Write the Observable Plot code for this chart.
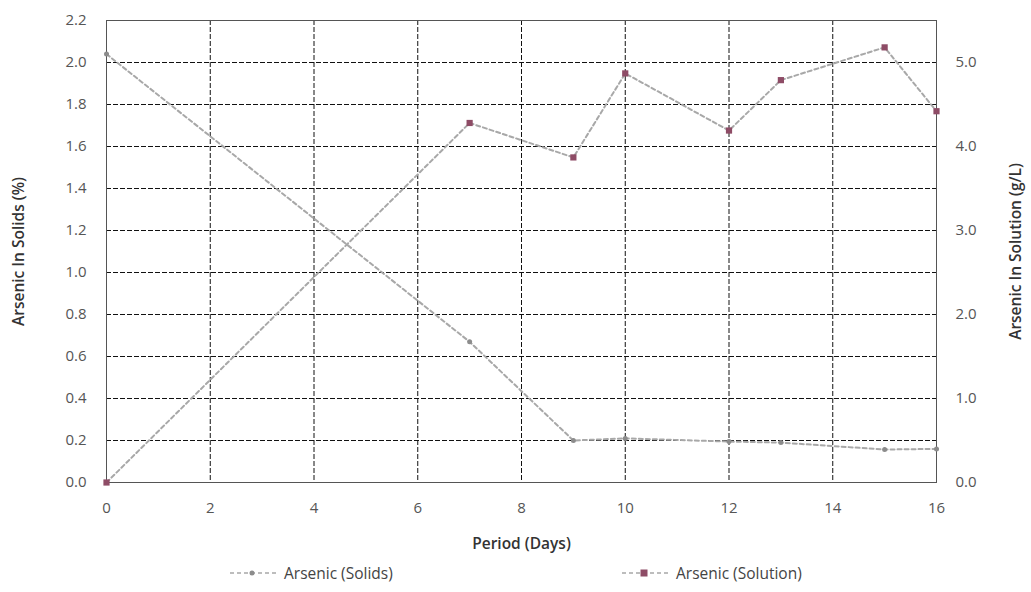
<!DOCTYPE html>
<html>
<head>
<meta charset="utf-8">
<script src="https://cdn.jsdelivr.net/npm/d3@7"></script>
<script src="https://cdn.jsdelivr.net/npm/@observablehq/plot@0.6"></script>
<style>
  body { margin: 0; background: #fff; font-family: "Open Sans", sans-serif; }
  #chart svg { display: block; }
  .legend { height: 28px; font-size: 15.5px; color: #444; position: relative; }
  .legend .item { position: absolute; top: 2px; display: flex; align-items: center; gap: 6px; }
</style>
</head>
<body>
<div id="chart"></div>
<div class="legend" id="legend"></div>
<script>
// Data
const days = [0, 7, 9, 10, 12, 13, 15, 16];
const solids = [2.04, 0.67, 0.20, 0.21, 0.195, 0.19, 0.157, 0.16];   // Arsenic in solids (%)
const solution = [0.0, 4.28, 3.87, 4.87, 4.19, 4.79, 5.18, 4.42];    // Arsenic in solution (g/L)
const xTicks = [0, 2, 4, 6, 8, 10, 12, 14, 16];
const yLeftTicks = [0, 0.2, 0.4, 0.6, 0.8, 1.0, 1.2, 1.4, 1.6, 1.8, 2.0, 2.2];
const yRightTicks = [0, 1, 2, 3, 4, 5];
const leftMax = 2.2, rightMax = 5.5;
const ratio = leftMax / rightMax;

const solidsData = days.map((d, i) => ({day: d, v: solids[i]}));
const solutionData = days.map((d, i) => ({day: d, v: solution[i] * ratio}));

const gridY = yLeftTicks.filter(v => v > 0 && v < leftMax);
const gridX = xTicks.filter(v => v > 0 && v < 16);

const lineColor = "#a8a8a8";
const solidsMarker = "#8c8c8c";
const solutionMarker = "#8e4c66";

const chart = Plot.plot({
  width: 1031,
  height: 560,
  marginLeft: 106,
  marginRight: 95,
  marginTop: 20,
  marginBottom: 78,
  style: {fontFamily: "Open Sans, sans-serif", fontSize: "15px", color: "#555"},
  x: {domain: [0, 16]},
  y: {domain: [0, leftMax]},
  marks: [
    Plot.ruleY(gridY, {stroke: "#111", strokeDasharray: "5,2", strokeWidth: 1}),
    Plot.ruleX(gridX, {stroke: "#111", strokeDasharray: "5,2", strokeWidth: 1}),
    Plot.frame({stroke: "#555", strokeWidth: 1}),
    Plot.axisX({ticks: xTicks, tickSize: 0, tickPadding: 20, tickFormat: d => d, label: "Period (Days)", labelAnchor: "center", labelArrow: "none", labelOffset: 66, fontSize: 15}),
    Plot.axisY({ticks: yLeftTicks, tickSize: 0, tickPadding: 20, tickFormat: d => d.toFixed(1), label: "Arsenic In Solids (%)", labelAnchor: "center", labelArrow: "none", labelOffset: 94, fontSize: 15}),
    Plot.axisY(yRightTicks.map(v => v * ratio), {anchor: "right", tickSize: 0, tickPadding: 19, tickFormat: d => (d / ratio).toFixed(1), label: "Arsenic In Solution (g/L)", labelAnchor: "center", labelArrow: "none", labelOffset: 84, fontSize: 15}),
    Plot.line(solidsData, {x: "day", y: "v", stroke: lineColor, strokeWidth: 2, strokeDasharray: "4,3"}),
    Plot.line(solutionData, {x: "day", y: "v", stroke: lineColor, strokeWidth: 2, strokeDasharray: "4,3"}),
    Plot.dot(solidsData, {x: "day", y: "v", r: 2.5, fill: solidsMarker}),
    Plot.dot(solutionData, {x: "day", y: "v", symbol: "square", r: 3.5, fill: solutionMarker})
  ]
});
chart.querySelectorAll('g[aria-label="y-axis label"] text, g[aria-label="x-axis label"] text').forEach(t => {
  t.setAttribute("font-weight", "600");
  t.setAttribute("fill", "#333");
  t.setAttribute("font-size", "15.5px");
});
document.getElementById("chart").appendChild(chart);

// Legend
const legend = document.getElementById("legend");
const items = [
  {label: "Arsenic (Solids)", left: 228, marker: "circle", color: solidsMarker},
  {label: "Arsenic (Solution)", left: 620, marker: "square", color: solutionMarker}
];
for (const it of items) {
  const div = document.createElement("div");
  div.className = "item";
  div.style.left = it.left + "px";
  const mk = it.marker === "circle"
    ? `<circle cx="24" cy="7" r="2.5" fill="${it.color}"/>`
    : `<rect x="20.5" y="3.5" width="7" height="7" fill="${it.color}"/>`;
  div.innerHTML = `<svg width="50" height="14"><line x1="2" x2="48" y1="7" y2="7" stroke="${lineColor}" stroke-width="1.5" stroke-dasharray="4,3"/>${mk}</svg><span>${it.label}</span>`;
  legend.appendChild(div);
}
</script>
</body>
</html>
